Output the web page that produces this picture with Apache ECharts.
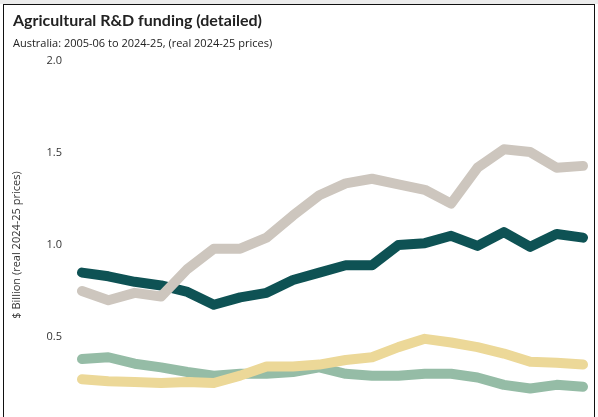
<!DOCTYPE html>
<html>
<head>
<meta charset="utf-8">
<script src="https://cdn.jsdelivr.net/npm/echarts@6/dist/echarts.min.js"></script>
<style>
html,body{margin:0;padding:0;width:598px;height:417px;overflow:hidden;background:#fff;}
#strip{position:absolute;left:0;top:0;width:598px;height:4px;background:#ececec;}
#frame{position:absolute;left:3px;top:4px;width:590px;height:430px;border:1.5px solid #111;border-bottom:none;}
#chart{position:absolute;left:0;top:0;width:598px;height:460px;}
</style>
</head>
<body>
<div id="strip"></div>
<div id="frame"></div>
<div id="chart"></div>
<script>
const categories = ['2005-06','2006-07','2007-08','2008-09','2009-10','2010-11','2011-12','2012-13','2013-14','2014-15','2015-16','2016-17','2017-18','2018-19','2019-20','2020-21','2021-22','2022-23','2023-24','2024-25'];
const seriesDark   = [0.85,0.83,0.80,0.78,0.745,0.675,0.715,0.74,0.81,0.85,0.89,0.89,1.00,1.01,1.05,0.995,1.07,0.99,1.06,1.04];
const seriesGray   = [0.75,0.70,0.74,0.72,0.87,0.98,0.98,1.04,1.16,1.27,1.335,1.36,1.33,1.30,1.225,1.42,1.52,1.505,1.42,1.43];
const seriesGreen  = [0.38,0.39,0.355,0.335,0.31,0.29,0.30,0.30,0.31,0.335,0.30,0.29,0.29,0.30,0.30,0.28,0.24,0.22,0.24,0.23];
const seriesYellow = [0.27,0.26,0.255,0.25,0.255,0.25,0.29,0.34,0.34,0.35,0.375,0.39,0.445,0.49,0.47,0.445,0.41,0.365,0.36,0.35];
const yTicks = [0, 0.5, 1.0, 1.5, 2.0];

const chart = echarts.init(document.getElementById('chart'));
function line(name, data, color) {
  return {
    name: name, type: 'line', data: data, symbol: 'none',
    lineStyle: {width: 10, color: color, cap: 'round', join: 'round'},
    itemStyle: {color: color}
  };
}
chart.setOption({
  animation: false,
  title: {
    text: 'Agricultural R&D funding (detailed)',
    subtext: 'Australia: 2005-06 to 2024-25, (real 2024-25 prices)',
    left: 8, top: 8, itemGap: 9,
    textStyle: {fontFamily: 'Lato', fontSize: 16, fontWeight: 'bold', color: '#222'},
    subtextStyle: {fontFamily: 'Open Sans', fontSize: 11, color: '#222'}
  },
  grid: {left: 82, right: 15, top: 61, bottom: 31},
  xAxis: {
    type: 'category', data: categories, boundaryGap: false,
    axisLine: {show: false}, axisTick: {show: false},
    axisLabel: {show: false}
  },
  yAxis: {
    type: 'value', min: yTicks[0], max: yTicks[yTicks.length-1], interval: 0.5,
    name: '$ Billion (real 2024-25 prices)', nameLocation: 'middle', nameGap: 60, nameRotate: 90,
    nameTextStyle: {fontFamily: 'Open Sans', fontSize: 11, color: '#333'},
    axisLine: {show: false}, axisTick: {show: false}, splitLine: {show: false},
    axisLabel: {fontFamily: 'Open Sans', fontSize: 11, color: '#333', margin: 20,
      formatter: v => v.toFixed(1)}
  },
  series: [
    line('Dark', seriesDark, '#0e5254'),
    line('Green', seriesGreen, '#95bca6'),
    line('Yellow', seriesYellow, '#ecd898'),
    line('Gray', seriesGray, '#cdc6be')
  ]
});
</script>
</body>
</html>
